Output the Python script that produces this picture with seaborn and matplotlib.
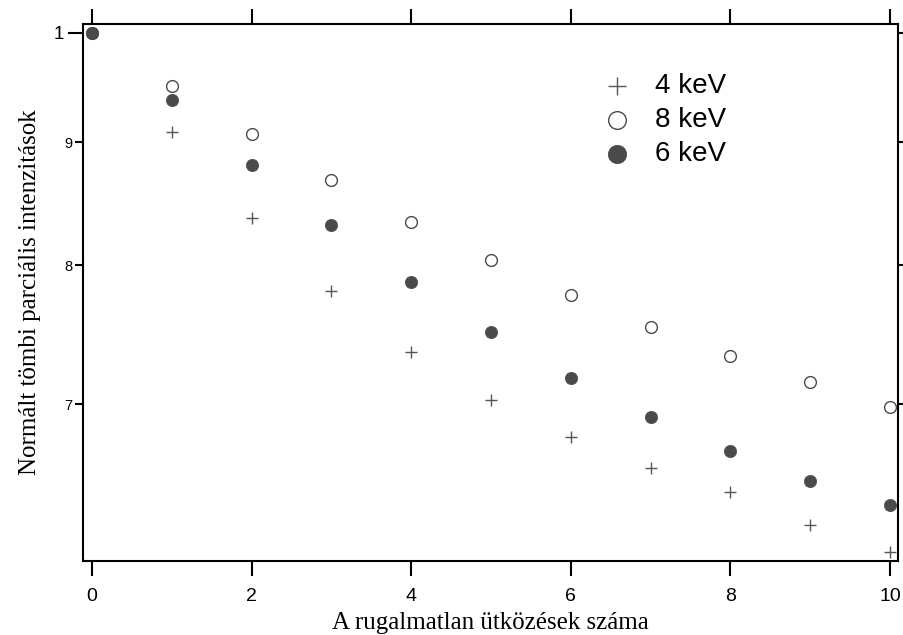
import numpy as np
import pandas as pd
import matplotlib
matplotlib.use("Agg")
import matplotlib.pyplot as plt
import seaborn as sns
from matplotlib.ticker import FixedLocator, FixedFormatter, NullLocator

# ---- data ----
collisions = list(range(11))
kev4 = [1.0, 0.909, 0.837, 0.780, 0.736, 0.703, 0.678, 0.658, 0.643, 0.623, 0.607]
kev8 = [1.0, 0.950, 0.907, 0.868, 0.834, 0.804, 0.777, 0.754, 0.733, 0.715, 0.698]
kev6 = [1.0, 0.937, 0.881, 0.831, 0.787, 0.750, 0.718, 0.691, 0.669, 0.650, 0.635]
series_labels = ["4 keV", "8 keV", "6 keV"]
y_major_ticks = [1.0]
y_major_labels = ["1"]
y_minor_ticks = [0.9, 0.8, 0.7]
y_minor_labels = ["9", "8", "7"]
x_ticks = [0, 2, 4, 6, 8, 10]
x_label = "A rugalmatlan ütközések száma"
y_label = "Normált tömbi parciális intenzitások"

sns.set_theme(style="white")
plt.rcParams['font.family'] = ['Liberation Sans', 'DejaVu Sans']

fig = plt.figure(figsize=(9.04, 6.35), dpi=100)
ax = fig.add_axes([0.0918, 0.1165, 0.9934 - 0.0918, 0.9622 - 0.1165])

df4 = pd.DataFrame({"x": collisions, "y": kev4})
df8 = pd.DataFrame({"x": collisions, "y": kev8})
df6 = pd.DataFrame({"x": collisions, "y": kev6})

dark = "#4a4a4a"
sns.scatterplot(data=df4, x="x", y="y", ax=ax, marker="+", s=80,
                color="#555555", linewidths=1.0, label=series_labels[0], zorder=3)
sns.scatterplot(data=df8, x="x", y="y", ax=ax, marker="o", s=72,
                facecolor="white", edgecolor=dark, linewidth=1.0,
                label=series_labels[1], zorder=3)
sns.scatterplot(data=df6, x="x", y="y", ax=ax, marker="o", s=78,
                color=dark, edgecolor=dark, linewidth=0.5,
                label=series_labels[2], zorder=4)

ax.set_yscale("log")
ax.set_xlim(-0.113, 10.1)
ax.set_ylim(0.602, 1.0084)

ax.yaxis.set_major_locator(FixedLocator(y_major_ticks))
ax.yaxis.set_major_formatter(FixedFormatter(y_major_labels))
ax.yaxis.set_minor_locator(FixedLocator(y_minor_ticks))
ax.yaxis.set_minor_formatter(FixedFormatter(y_minor_labels))
ax.xaxis.set_major_locator(FixedLocator(x_ticks))
ax.xaxis.set_minor_locator(NullLocator())

for sp in ax.spines.values():
    sp.set_color("black")
    sp.set_linewidth(1.5)

ax.tick_params(axis="x", which="major", direction="out", length=10.5, width=1.5,
               color="black", labelsize=14, pad=9, top=True, bottom=True,
               labeltop=False, labelcolor="black")
ax.tick_params(axis="y", which="major", direction="out", length=10.5, width=1.5,
               color="black", labelsize=13.5, pad=3, left=True, right=True,
               labelright=False, labelcolor="black")
ax.tick_params(axis="y", which="minor", direction="out", length=5.5, width=1.5,
               color="black", labelsize=10.5, pad=2, left=True, right=True,
               labelleft=True, labelright=False, labelcolor="black")
for t in ax.yaxis.get_major_ticks():
    t.tick2line.set_markersize(4)
for t in ax.yaxis.get_minor_ticks():
    t.tick2line.set_markersize(4)

ax.set_xlabel(x_label, fontsize=18, family="Liberation Serif", color="black", labelpad=5)
ax.set_ylabel(y_label, fontsize=18, family="Liberation Serif", color="black", labelpad=9)

leg = ax.legend(loc="upper left", bbox_to_anchor=(0.607, 0.929), frameon=False,
                fontsize=20, handletextpad=0.4, labelspacing=0.29, markerscale=1.5,
                borderaxespad=0)
for t in leg.get_texts():
    t.set_color("black")

fig.savefig("out.png", dpi=100)
